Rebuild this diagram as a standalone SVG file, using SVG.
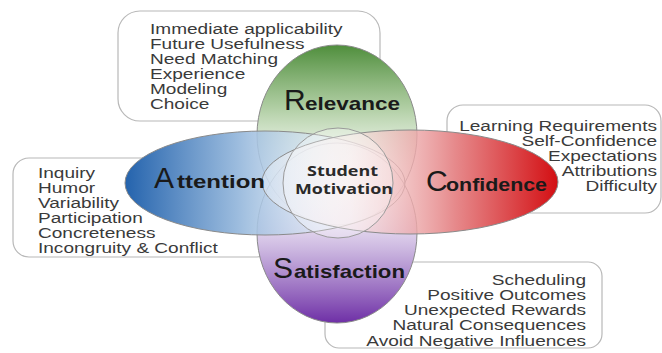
<svg xmlns="http://www.w3.org/2000/svg" width="662" height="353" viewBox="0 0 662 353">
<defs>
<linearGradient id="gR" x1="0" y1="0" x2="0" y2="1"><stop offset="0" stop-color="#4f8e3c"/><stop offset="0.35" stop-color="#a8c99a" stop-opacity="0.9"/><stop offset="0.7" stop-color="#eef5ea" stop-opacity="0.5"/><stop offset="1" stop-color="#ffffff" stop-opacity="0.3"/></linearGradient>
<linearGradient id="gA" x1="0" y1="0" x2="1" y2="0"><stop offset="0" stop-color="#2463ad"/><stop offset="0.4" stop-color="#96b8dc" stop-opacity="0.95"/><stop offset="0.75" stop-color="#e8f0f8" stop-opacity="0.6"/><stop offset="1" stop-color="#ffffff" stop-opacity="0.3"/></linearGradient>
<linearGradient id="gC" x1="1" y1="0" x2="0" y2="0"><stop offset="0" stop-color="#d30e12"/><stop offset="0.35" stop-color="#e58486" stop-opacity="0.95"/><stop offset="0.7" stop-color="#f8e4e4" stop-opacity="0.6"/><stop offset="1" stop-color="#ffffff" stop-opacity="0.3"/></linearGradient>
<linearGradient id="gS" x1="0" y1="1" x2="0" y2="0"><stop offset="0" stop-color="#6e2fa6"/><stop offset="0.35" stop-color="#b89bd4" stop-opacity="0.9"/><stop offset="0.7" stop-color="#f1ebf7" stop-opacity="0.5"/><stop offset="1" stop-color="#ffffff" stop-opacity="0.3"/></linearGradient>
</defs>
<style>
.box{fill:#fff;stroke:#b8b8b8;stroke-width:1.2}
.ell{stroke:#8a8a8a;stroke-width:1}
.lst{font-family:"Liberation Sans",Arial,sans-serif;font-size:14px;fill:#3a3a3a}
.big{font-family:"Liberation Sans",Arial,sans-serif;font-size:30px;fill:#1a1a1a}
.tail{font-family:"Liberation Sans",Arial,sans-serif;font-size:19px;font-weight:bold;fill:#1a1a1a}
.ctr{font-family:"Open Sans",sans-serif;font-size:14px;font-weight:bold;fill:#2a2a2a}
</style>
<rect width="662" height="353" fill="#fff"/>
<g id="boxes">
<rect class="box" x="118" y="11" width="262" height="110" rx="22"/>
<rect class="box" x="447" y="105" width="214" height="108" rx="16"/>
<rect class="box" x="13" y="158" width="260" height="99" rx="16"/>
<rect class="box" x="325" y="262" width="277" height="86" rx="14"/>
</g>
<g id="underlay" fill="#fff">
<ellipse cx="337" cy="135" rx="80" ry="90"/>
<ellipse cx="337" cy="233" rx="80" ry="90"/>
<ellipse cx="265" cy="183" rx="140" ry="52"/>
<ellipse cx="410" cy="182" rx="148" ry="52"/>
</g>
<g id="relevance">
<ellipse class="ell" cx="337" cy="135" rx="80" ry="90" fill="url(#gR)"/>
</g>
<g id="satisfaction">
<ellipse class="ell" cx="337" cy="233" rx="80" ry="90" fill="url(#gS)"/>
</g>
<g id="attention">
<ellipse class="ell" cx="265" cy="183" rx="140" ry="52" fill="url(#gA)"/>
</g>
<g id="confidence">
<ellipse class="ell" cx="410" cy="182" rx="148" ry="52" fill="url(#gC)"/>
</g>
<g id="student-motivation">
<circle cx="338" cy="183" r="55" fill="#fff" fill-opacity="0.3" stroke="#9a9a9a" stroke-width="1"/>
<text class="ctr" x="307" y="176" textLength="71" lengthAdjust="spacingAndGlyphs">Student</text>
<text class="ctr" x="295" y="194" textLength="98" lengthAdjust="spacingAndGlyphs">Motivation</text>
</g>
<g id="labels">
<text class="big" x="284" y="110">R</text>
<text class="tail" x="305" y="110" textLength="95" lengthAdjust="spacingAndGlyphs">elevance</text>
<text class="big" x="154" y="188">A</text>
<text class="tail" x="177" y="188" textLength="88" lengthAdjust="spacingAndGlyphs">ttention</text>
<text class="big" x="426" y="191">C</text>
<text class="tail" x="446" y="191" textLength="101" lengthAdjust="spacingAndGlyphs">onfidence</text>
<text class="big" x="273" y="278">S</text>
<text class="tail" x="294" y="278" textLength="111" lengthAdjust="spacingAndGlyphs">atisfaction</text>
</g>
<g id="relevance-list" class="lst" transform="translate(150 0) scale(1.36 1)">
<text x="0" y="34">Immediate applicability</text>
<text x="0" y="49">Future Usefulness</text>
<text x="0" y="64">Need Matching</text>
<text x="0" y="79">Experience</text>
<text x="0" y="94">Modeling</text>
<text x="0" y="109">Choice</text>
</g>
<g id="confidence-list" class="lst" text-anchor="end" transform="translate(657 0) scale(1.36 1)">
<text x="0" y="131">Learning Requirements</text>
<text x="0" y="146">Self-Confidence</text>
<text x="0" y="161">Expectations</text>
<text x="0" y="176">Attributions</text>
<text x="0" y="191">Difficulty</text>
</g>
<g id="attention-list" class="lst" transform="translate(38 0) scale(1.36 1)">
<text x="0" y="178">Inquiry</text>
<text x="0" y="193">Humor</text>
<text x="0" y="208">Variability</text>
<text x="0" y="223">Participation</text>
<text x="0" y="238">Concreteness</text>
<text x="0" y="253">Incongruity &amp; Conflict</text>
</g>
<g id="satisfaction-list" class="lst" text-anchor="end" transform="translate(586 0) scale(1.36 1)">
<text x="0" y="285">Scheduling</text>
<text x="0" y="300">Positive Outcomes</text>
<text x="0" y="315">Unexpected Rewards</text>
<text x="0" y="330">Natural Consequences</text>
<text x="0" y="346">Avoid Negative Influences</text>
</g>
<g id="connectors"/>
</svg>
